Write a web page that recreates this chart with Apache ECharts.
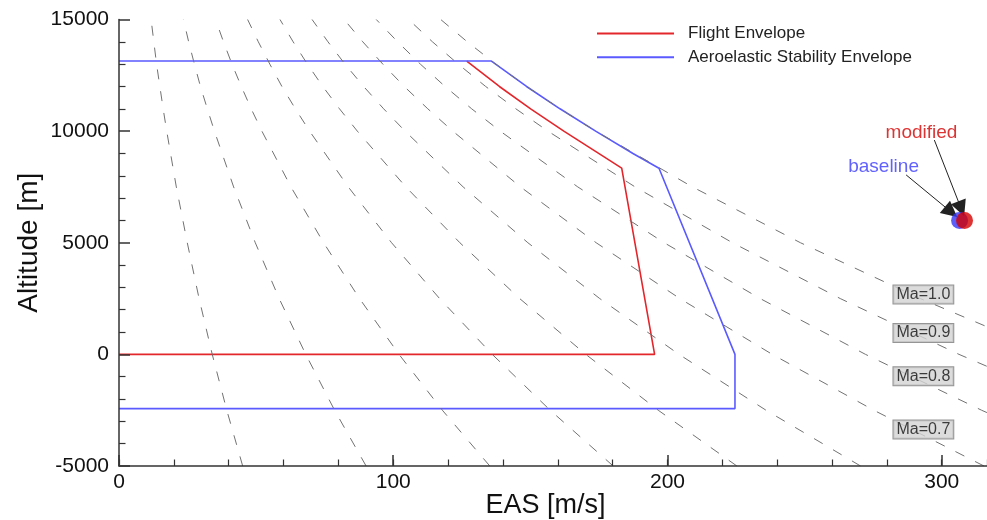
<!DOCTYPE html>
<html><head><meta charset="utf-8">
<script src="https://cdn.jsdelivr.net/npm/echarts@6/dist/echarts.min.js"></script>
<style>html,body{margin:0;padding:0;background:#fff}#c{width:987px;height:520px}</style>
</head><body><div id="c"></div>
<script>
// ---------- data ----------
// altitude stations (m) for the constant-Mach reference lines
const altitudes = [-5000, -2500, 0, 2500, 5000, 7500, 10000, 11000, 12000, 13000, 14000, 15000];
// EAS (m/s) of each constant-Mach dashed line at the altitude stations
const ma01 = [45.1, 39.3, 34.0, 29.2, 24.9, 20.9, 17.4, 16.1, 14.9, 13.7, 12.7, 11.7];
const ma02 = [90.1, 78.6, 68.1, 58.4, 49.7, 41.8, 34.8, 32.2, 29.7, 27.5, 25.4, 23.5];
const ma03 = [135.2, 117.9, 102.1, 87.7, 74.6, 62.7, 52.1, 48.2, 44.6, 41.2, 38.1, 35.2];
const ma04 = [180.2, 157.2, 136.1, 116.9, 99.4, 83.6, 69.5, 64.3, 59.4, 55.0, 50.8, 46.9];
const ma05 = [225.3, 196.6, 170.2, 146.1, 124.3, 104.6, 86.9, 80.4, 74.3, 68.7, 63.5, 58.7];
const ma06 = [270.4, 235.9, 204.2, 175.3, 149.1, 125.5, 104.3, 96.5, 89.2, 82.4, 76.2, 70.4];
const ma07 = [315.4, 275.2, 238.2, 204.5, 174.0, 146.4, 121.7, 112.6, 104.0, 96.2, 88.9, 82.1];
const ma08 = [360.5, 314.5, 272.2, 233.8, 198.8, 167.3, 139.0, 128.6, 118.9, 109.9, 101.6, 93.8];
const ma09 = [405.5, 353.8, 306.3, 263.0, 223.7, 188.2, 156.4, 144.7, 133.7, 123.7, 114.3, 105.6];
const ma10 = [450.6, 393.1, 340.3, 292.2, 248.5, 209.1, 173.8, 160.8, 148.6, 137.4, 127.0, 117.3];
const machLines = [ma01, ma02, ma03, ma04, ma05, ma06, ma07, ma08, ma09, ma10];

// Flight envelope (red)
const flightEAS = [0, 195.3, 183.3, 174.9, 162.2, 150.1, 138.7, 126.8];
const flightAlt = [0, 0, 8340, 9000, 10000, 11000, 12000, 13140];
// Aeroelastic stability envelope (blue)
const aeroEAS = [0, 135.8, 148.6, 160.8, 173.8, 187.4, 196.9, 224.6, 224.6, 0];
const aeroAlt = [13140, 13140, 12000, 11000, 10000, 9000, 8340, 0, -2430, -2430];

// Mach labels on the right
const machLabelText = ['Ma=1.0', 'Ma=0.9', 'Ma=0.8', 'Ma=0.7'];
const machLabelEAS = [293.3, 293.3, 293.3, 293.3];
const machLabelAlt = [2680, 960, -980, -3370];

// design points
const baselinePoint = [306.5, 6000];
const modifiedPoint = [308.3, 6000];
// annotation arrows [fromEAS, fromAlt, toEAS, toAlt]
const baselineArrow = [287.0, 8040, 303.4, 6380];
const modifiedArrow = [297.3, 9600, 307.1, 6520];

// axes
const xMin = 0, xMax = 316.5, xMajor = 100, xMinor = 20;
const yMin = -5000, yMax = 15000, yMajor = 5000;

// ---------- chart ----------
const FONT = 'Liberation Sans, Arial, Helvetica, sans-serif';
const AX = '#333';
const zip = (xs, ys) => xs.map((x, i) => [x, ys[i]]);

const series = [];
series.push({
  name: 'Flight Envelope', type: 'line', data: zip(flightEAS, flightAlt),
  symbol: 'none', color: '#e3262b', lineStyle: {color: '#e3262b', width: 1.6}, z: 3, silent: true
});
series.push({
  name: 'Aeroelastic Stability Envelope', type: 'line', data: zip(aeroEAS, aeroAlt),
  symbol: 'none', color: '#5a5aff', lineStyle: {color: '#5a5aff', width: 1.6}, z: 3, silent: true
});
machLines.forEach((arr, i) => {
  series.push({
    name: 'mach' + i, type: 'line', data: zip(arr, altitudes), symbol: 'none',
    lineStyle: {color: '#727272', width: 1, type: [10, 12]}, z: 4, silent: true
  });
});
series.push({
  name: 'machLabels', type: 'scatter', symbolSize: 0, z: 8, silent: true,
  data: machLabelText.map((t, i) => ({name: t, value: [machLabelEAS[i], machLabelAlt[i]]})),
  label: {
    show: true, position: 'inside', formatter: '{b}', fontFamily: FONT, fontSize: 16, color: '#111',
    backgroundColor: '#d3d3d3', borderColor: '#7a7a7a', borderWidth: 1, padding: [1, 3, 0, 3], lineHeight: 17
  }
});
series.push({
  name: 'arrows', type: 'lines', coordinateSystem: 'cartesian2d', z: 6, silent: true,
  symbol: ['none', 'triangle'], symbolSize: [8, 16],
  lineStyle: {color: '#222', width: 1, opacity: 1},
  data: [
    {coords: [[baselineArrow[0], baselineArrow[1]], [baselineArrow[2], baselineArrow[3]]]},
    {coords: [[modifiedArrow[0], modifiedArrow[1]], [modifiedArrow[2], modifiedArrow[3]]]}
  ]
});
series.push({
  name: 'baseline', type: 'scatter', symbol: 'circle', symbolSize: 17, z: 7, silent: true,
  itemStyle: {color: '#3535f5'}, data: [baselinePoint],
  label: {show: true, position: 'inside', offset: [-76, -54], formatter: 'baseline',
    fontFamily: FONT, fontSize: 19, color: '#3a3aff'}
});
series.push({
  name: 'modified', type: 'scatter', symbol: 'circle', symbolSize: 17, z: 8, silent: true,
  itemStyle: {color: '#d40000'}, data: [modifiedPoint],
  label: {show: true, position: 'inside', offset: [-43, -88], formatter: 'modified',
    fontFamily: FONT, fontSize: 19, color: '#d40000'}
});

const chart = echarts.init(document.getElementById('c'), null, {renderer: 'canvas'});
chart.setOption({
  animation: false,
  backgroundColor: '#fff',
  textStyle: {fontFamily: FONT},
  grid: {left: 119, right: 0, top: 19.5, bottom: 54, containLabel: false, outerBoundsMode: 'none'},
  legend: {
    data: ['Flight Envelope', 'Aeroelastic Stability Envelope'],
    orient: 'vertical', left: 597, top: 25, padding: 0, icon: 'rect',
    itemWidth: 77, itemHeight: 2, itemGap: 6.7, selectedMode: false,
    textStyle: {fontFamily: FONT, fontSize: 17, color: '#222', padding: [0, 0, 0, 9], lineHeight: 14}
  },
  xAxis: [{
    type: 'value', min: xMin, max: xMax, interval: xMajor, position: 'bottom', z: 10,
    axisLine: {show: true, onZero: false, lineStyle: {color: AX, width: 1.5}},
    axisTick: {show: true, inside: true, length: 11, lineStyle: {color: AX, width: 1.5}},
    axisLabel: {showMaxLabel: false, fontFamily: FONT, fontSize: 21, color: '#111', margin: 6,
      formatter: v => String(v)},
    splitLine: {show: false},
    name: 'EAS [m/s]', nameLocation: 'middle', nameGap: 26, nameMoveOverlap: false,
    nameTextStyle: {fontFamily: FONT, fontSize: 27, color: '#111', padding: [0, 15, 0, 0]}
  }, {
    type: 'value', min: xMin, max: xMax, interval: xMinor, position: 'bottom', z: 10,
    axisLine: {show: false, onZero: false},
    axisTick: {show: true, inside: true, length: 6.5, lineStyle: {color: AX, width: 1.2}},
    axisLabel: {show: false}, splitLine: {show: false}
  }],
  yAxis: {
    type: 'value', min: yMin, max: yMax, interval: yMajor, z: 10,
    axisLine: {show: true, onZero: false, lineStyle: {color: AX, width: 1.5}},
    axisTick: {show: true, inside: true, length: 11, lineStyle: {color: AX, width: 1.5}},
    minorTick: {show: true, splitNumber: 5, length: 6.5, lineStyle: {color: AX, width: 1.2}},
    axisLabel: {fontFamily: FONT, fontSize: 21, color: '#111', margin: 10, formatter: v => String(v)},
    splitLine: {show: false},
    name: 'Altitude [m]', nameLocation: 'middle', nameRotate: 90, nameGap: 76, nameMoveOverlap: false,
    nameTextStyle: {fontFamily: FONT, fontSize: 28, color: '#111'}
  },
  series: series
});
</script></body></html>
